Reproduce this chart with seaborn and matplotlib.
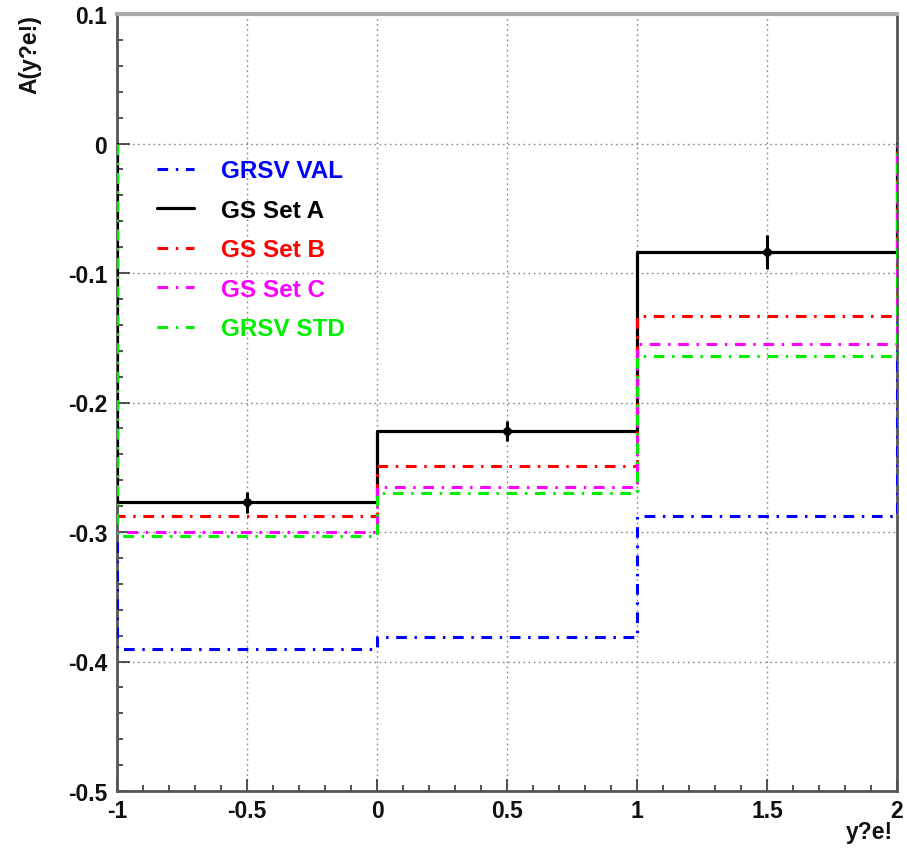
import matplotlib
matplotlib.use("Agg")
import matplotlib.pyplot as plt
import seaborn as sns
import pandas as pd
import numpy as np

# ---- data ----
bin_edges = [-1.0, 0.0, 1.0, 2.0]
bin_centers = [-0.5, 0.5, 1.5]
series_names = ["GRSV VAL", "GS Set A", "GS Set B", "GS Set C", "GRSV STD"]
grsv_val = [-0.390, -0.381, -0.288]
gs_set_a = [-0.277, -0.222, -0.084]
gs_set_b = [-0.288, -0.249, -0.133]
gs_set_c = [-0.300, -0.265, -0.155]
grsv_std = [-0.303, -0.270, -0.164]
data_err = [0.008, 0.008, 0.013]
x_ticks = [-1, -0.5, 0, 0.5, 1, 1.5, 2]
y_ticks = [-0.5, -0.4, -0.3, -0.2, -0.1, 0, 0.1]

series_values = [grsv_val, gs_set_a, gs_set_b, gs_set_c, grsv_std]
colors = {"GRSV VAL": "#0000ff", "GS Set A": "#000000", "GS Set B": "#ff0000",
          "GS Set C": "#ff00ff", "GRSV STD": "#00ee00"}
dashdot = (0, (3.5, 2.5, 0.8, 2.5))
styles = {"GRSV VAL": dashdot, "GS Set A": "-", "GS Set B": dashdot,
          "GS Set C": dashdot, "GRSV STD": dashdot}

sns.set_theme(style="white")
plt.rcParams['font.family'] = ['Liberation Sans', 'DejaVu Sans']

fig = plt.figure(figsize=(9.07, 8.54), dpi=100)
ax = fig.add_axes([117/907, 1-792/854, 780/907, 777/854])

def outline(vals):
    xs, ys = [bin_edges[0]], [0.0]
    for i, v in enumerate(vals):
        xs += [bin_edges[i], bin_edges[i+1]]
        ys += [v, v]
    xs.append(bin_edges[-1]); ys.append(0.0)
    return xs, ys

draw_order = ["GS Set A", "GRSV VAL", "GS Set B", "GS Set C", "GRSV STD"]
for name in draw_order:
    vals = series_values[series_names.index(name)]
    xs, ys = outline(vals)
    df = pd.DataFrame({"x": xs, "y": ys})
    sns.lineplot(data=df, x="x", y="y", sort=False, estimator=None, ax=ax,
                 color=colors[name], linewidth=2.3 if name == "GS Set A" else 2.2,
                 linestyle=styles[name], label=name, zorder=3)

ax.errorbar(bin_centers, gs_set_a, yerr=data_err, fmt='D', color='black',
            ms=5.5, elinewidth=2.2, capsize=0, zorder=5)

ax.set_xlim(-1, 2)
ax.set_ylim(-0.5, 0.1)
ax.set_xticks(x_ticks)
ax.set_xticklabels(["-1", "-0.5", "0", "0.5", "1", "1.5", "2"])
ax.set_yticks(y_ticks)
ax.set_yticklabels(["-0.5", "-0.4", "-0.3", "-0.2", "-0.1", "0", "0.1"])
ax.xaxis.set_minor_locator(matplotlib.ticker.MultipleLocator(0.1))
ax.yaxis.set_minor_locator(matplotlib.ticker.MultipleLocator(0.02))
ax.tick_params(axis='both', which='both', direction='in', color='#444444',
               width=1.3, left=True, bottom=True, right=False, top=False)
ax.tick_params(axis='both', which='major', length=9, labelsize=16.5)
ax.tick_params(axis='both', which='minor', length=4.5)
ax.tick_params(axis='x', which='major', pad=6)
ax.tick_params(axis='y', which='major', pad=7)
for lab in ax.get_xticklabels() + ax.get_yticklabels():
    lab.set_fontweight('bold')
    lab.set_color('#111111')

ax.grid(True, which='major', linestyle=(0, (1.2, 2.5)), color='#888888', linewidth=1.0)
ax.set_axisbelow(True)

for side in ['left', 'bottom', 'right']:
    ax.spines[side].set_color('#555555')
    ax.spines[side].set_linewidth(2.0)
ax.spines['top'].set_color('#aaaaaa')
ax.spines['top'].set_linewidth(3.0)

ax.set_ylabel("A(y?e!)", loc='top', fontsize=16.5, fontweight='bold', color='#111111')
ax.yaxis.set_label_coords(-0.097, 1.0)
ax.set_xlabel("y?e!", loc='right', fontsize=16.5, fontweight='bold', color='#111111')
ax.xaxis.set_label_coords(0.995, -0.037)

h, l = ax.get_legend_handles_labels()
hmap = dict(zip(l, h))
leg = ax.legend([hmap[n] for n in series_names], series_names,
                loc='upper left', bbox_to_anchor=(0.051, 0.813), frameon=False,
                handlelength=1.55, handletextpad=1.1, labelspacing=0.68,
                borderpad=0, borderaxespad=0, labelcolor='linecolor',
                prop={'weight': 'bold', 'size': 17.5})

fig.savefig("out.png", dpi=100)
